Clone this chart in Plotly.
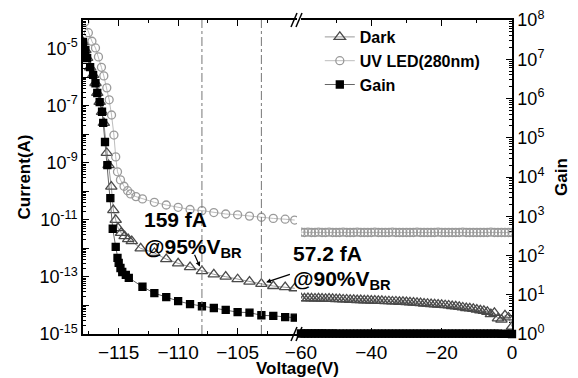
import math
import plotly.graph_objects as go

# ---------------- data ----------------
# Left (breakdown) segment of the voltage axis
v_dark_l = [-118, -117.8, -117.65, -117.4, -117.15, -116.95, -116.8, -116.6, -116.4, -116.25,
            -116.0, -115.85, -115.62, -115.45, -115.25, -115.05, -114.8, -114.5, -114.2, -113.9,
            -113.15, -112, -111, -110, -109, -108, -107, -106, -105, -104, -103, -102, -101, -100.2]
i_dark_l = [1.7e-5, 8.9e-6, 4.7e-6, 2.2e-6, 1.2e-6, 6.2e-7, 2.8e-7, 1.35e-7, 6.0e-8, 2.5e-8,
            2.2e-9, 8.3e-10, 1.45e-10, 2.2e-11, 1.0e-11, 5.1e-12, 3.5e-12, 2.7e-12, 2.1e-12, 1.8e-12,
            1.0e-12, 6.9e-13, 4.2e-13, 3.0e-13, 2.2e-13, 1.59e-13, 1.23e-13, 1.02e-13, 8.3e-14, 6.8e-14,
            5.72e-14, 4.8e-14, 4.4e-14, 4.0e-14]

v_uv_l = [-117.85, -117.55, -117.25, -116.95, -116.7, -116.45, -116.25, -116.0, -115.8, -115.6,
          -115.4, -115.25, -115.1, -114.85, -114.55, -114.25, -114.0, -113.55, -113.0, -112,
          -111, -110, -109, -108, -107, -106, -105, -104, -103, -102, -101, -100.2]
i_uv_l = [8.5e-5, 3.6e-5, 1.8e-5, 1.05e-5, 5.1e-6, 2.2e-6, 1.1e-6, 4.2e-7, 1.6e-7, 4.7e-8,
          9.3e-9, 1.6e-9, 4.8e-10, 2.5e-10, 1.5e-10, 1.05e-10, 8.1e-11, 6.5e-11, 5.4e-11, 4.1e-11,
          3.3e-11, 2.75e-11, 2.3e-11, 2.1e-11, 1.8e-11, 1.6e-11, 1.5e-11, 1.35e-11, 1.23e-11, 1.12e-11,
          1.05e-11, 9.8e-12]

v_gain_l = [-118, -117.8, -117.65, -117.4, -117.15, -116.95, -116.8, -116.6, -116.4, -116.3,
            -116.15, -115.95, -115.7, -115.5, -115.25, -115.1, -115.0, -114.85, -114.7, -114.4,
            -114.15, -113, -112, -111, -110, -109, -108, -107, -106, -105, -104, -103, -102, -101, -100.2]
gain_l = [2.75e7, 1.74e7, 1.07e7, 6.3e6, 4.0e6, 2.45e6, 1.38e6, 8.1e5, 4.6e5, 2.4e5,
          7.8e4, 2.0e4, 2.9e3, 480, 166, 87, 65, 48, 38, 32,
          27, 16, 11, 8.7, 6.9, 5.8, 5.1, 4.6, 4.1, 3.6, 3.5, 3.0, 2.9, 2.7, 2.6]

# Right (low bias) segment of the voltage axis
v_right = [-60, -59, -58, -57, -56, -55, -54, -53, -52, -51, -50, -49, -48, -47, -46, -45, -44, -43,
           -42, -41, -40, -39, -38, -37, -36, -35, -34, -33, -32, -31, -30, -29, -28, -27, -26, -25,
           -24, -23, -22, -21, -20, -19, -18, -17, -16, -15, -14, -13, -12, -11, -10, -9, -8, -7,
           -6, -5, -4, -3, -2, -1, 0]
i_dark_r = [1.82e-14, 1.78e-14, 1.82e-14, 1.78e-14, 1.74e-14, 1.78e-14, 1.74e-14, 1.70e-14, 1.74e-14, 1.70e-14,
            1.66e-14, 1.66e-14, 1.62e-14, 1.62e-14, 1.58e-14, 1.58e-14, 1.55e-14, 1.55e-14, 1.51e-14, 1.51e-14,
            1.48e-14, 1.48e-14, 1.45e-14, 1.45e-14, 1.41e-14, 1.41e-14, 1.38e-14, 1.38e-14, 1.35e-14, 1.35e-14,
            1.32e-14, 1.29e-14, 1.26e-14, 1.23e-14, 1.20e-14, 1.17e-14, 1.15e-14, 1.12e-14, 1.10e-14, 1.07e-14,
            1.05e-14, 1.02e-14, 1.00e-14, 9.5e-15, 9.3e-15, 8.9e-15, 8.5e-15, 8.1e-15, 7.9e-15, 7.6e-15,
            7.2e-15, 6.8e-15, 6.5e-15, 6.0e-15, 5.0e-15, 5.5e-15, 3.5e-15, 3.2e-15, 4.5e-15, 3.8e-15,
            1.8e-15]
i_uv_r = [3.7e-12, 3.6e-12, 3.7e-12, 3.6e-12, 3.6e-12, 3.7e-12, 3.6e-12, 3.6e-12, 3.7e-12, 3.6e-12,
          3.6e-12, 3.6e-12, 3.7e-12, 3.6e-12, 3.6e-12, 3.6e-12, 3.7e-12, 3.6e-12, 3.6e-12, 3.6e-12,
          3.6e-12, 3.7e-12, 3.6e-12, 3.6e-12, 3.6e-12, 3.6e-12, 3.7e-12, 3.6e-12, 3.6e-12, 3.6e-12,
          3.6e-12, 3.6e-12, 3.6e-12, 3.7e-12, 3.6e-12, 3.6e-12, 3.6e-12, 3.6e-12, 3.6e-12, 3.7e-12,
          3.6e-12, 3.6e-12, 3.6e-12, 3.6e-12, 3.6e-12, 3.6e-12, 3.7e-12, 3.6e-12, 3.6e-12, 3.6e-12,
          3.6e-12, 3.6e-12, 3.6e-12, 3.6e-12, 3.7e-12, 3.6e-12, 3.6e-12, 3.6e-12, 3.6e-12, 3.6e-12,
          3.6e-12]
gain_r = [1.03, 1.03, 1.03, 1.03, 1.03, 1.03, 1.03, 1.03, 1.02, 1.03, 1.02, 1.02, 1.02, 1.02, 1.02,
          1.02, 1.02, 1.02, 1.02, 1.02, 1.02, 1.02, 1.02, 1.02, 1.02, 1.02, 1.02, 1.02, 1.02, 1.02,
          1.02, 1.02, 1.02, 1.02, 1.02, 1.02, 1.02, 1.02, 1.02, 1.02, 1.02, 1.02, 1.02, 1.02, 1.02,
          1.02, 1.02, 1.02, 1.02, 1.02, 1.02, 1.02, 1.02, 1.02, 1.02, 1.02, 1.02, 1.01, 1.01, 1.01,
          1.0]

vbr_lines = [-108, -103]          # 95 % and 90 % of V_BR
vbr_currents = [1.59e-13, 5.72e-14]

x_left_ticks = [-115, -110, -105]
x_left_minor = [-117.5, -112.5, -107.5, -102.5]
x_right_ticks = [-60, -40, -20, 0]
x_right_minor = [-50, -30, -10]

# ---------------- styles ----------------
FONT = "Liberation Sans, Arial, sans-serif"
DARK_C, DARK_L = "#4a4a4a", "#9a9a9a"
UV_C, UV_L = "#9a9a9a", "#bdbdbd"
GAIN_C, GAIN_L = "#000000", "#666666"

fig = go.Figure()

def add(x, y, xa, ya, name, sym, size, mc, lc, show, clip=True):
    fig.add_trace(go.Scatter(
        x=x, y=y, xaxis=xa, yaxis=ya, mode="lines+markers", name=name,
        legendgroup=name, showlegend=show, cliponaxis=clip,
        marker=dict(symbol=sym, size=size, color=mc, line=dict(color=mc, width=1.3)),
        line=dict(color=lc, width=1)))

add(v_dark_l, i_dark_l, "x", "y", "Dark", "triangle-up-open", 10, DARK_C, DARK_L, True)
add(v_uv_l, i_uv_l, "x", "y", "UV LED(280nm)", "circle-open", 8, UV_C, UV_L, True)
add(v_gain_l, gain_l, "x", "y2", "Gain", "square", 7, GAIN_C, GAIN_L, True)
add(v_right, i_dark_r, "x2", "y", "Dark", "triangle-up-open", 10, DARK_C, DARK_L, False)
add(v_right, i_uv_r, "x2", "y", "UV LED(280nm)", "circle-open", 8, UV_C, UV_L, False)
add(v_right, gain_r, "x2", "y2", "Gain", "square", 7, GAIN_C, GAIN_L, False, clip=False)

# log tick helpers
def minor_log(lo, hi):
    return [m * 10.0 ** e for e in range(lo, hi) for m in range(2, 10)]

cur_ticks = [10.0 ** e for e in range(-15, -3)]
cur_text = [("10<sup>%d</sup>" % e) if e % 2 else "" for e in range(-15, -3)]
gain_ticks = [10.0 ** e for e in range(0, 9)]
gain_text = ["10<sup>%d</sup>" % e for e in range(0, 9)]

axis_common = dict(showline=True, linecolor="black", linewidth=1.5, ticks="inside",
                   ticklen=6, tickwidth=1.2, tickcolor="black", showgrid=False,
                   zeroline=False, automargin=False, ticklabeloverflow="allow")

# The page body has an 8 px margin: figure is 570x370 placed at (8, 8).
fig.update_layout(
    width=570, height=370,
    margin=dict(l=75, r=66, t=12, b=44, autoexpand=False),
    paper_bgcolor="white", plot_bgcolor="white",
    font=dict(family=FONT, size=17, color="black"),
    xaxis=dict(domain=[0, 0.499], range=[-118, -100], anchor="y", mirror="ticks",
               tickvals=x_left_ticks, tickfont=dict(size=19),
               minor=dict(tickvals=x_left_minor, ticks="inside", ticklen=3, tickcolor="black"),
               **axis_common),
    xaxis2=dict(domain=[0.508, 1], range=[-60, 0], anchor="y", mirror="ticks",
                tickvals=x_right_ticks, tickfont=dict(size=19),
                minor=dict(tickvals=x_right_minor, ticks="inside", ticklen=3, tickcolor="black"),
                **axis_common),
    yaxis=dict(type="log", range=[-15, -4], domain=[0, 1], anchor="x",
               tickvals=cur_ticks, ticktext=cur_text, tickfont=dict(size=18),
               minor=dict(tickvals=minor_log(-15, -4), ticks="inside", ticklen=3, tickcolor="black"),
               title=dict(text="Current(A)", font=dict(size=17, weight="bold"), standoff=4),
               **axis_common),
    yaxis2=dict(type="log", range=[0, 8], overlaying="y", side="right", anchor="x2",
                tickvals=gain_ticks, ticktext=gain_text, tickfont=dict(size=18),
                minor=dict(tickvals=minor_log(0, 8), ticks="inside", ticklen=3, tickcolor="black"),
                title=dict(text="Gain", font=dict(size=17, weight="bold"), standoff=12),
                **axis_common),
    legend=dict(x=0.552, y=1.0, xanchor="left", yanchor="top", bgcolor="rgba(0,0,0,0)",
                font=dict(size=16, weight="bold"), tracegroupgap=0),
)

# vertical reference lines at 95 % / 90 % V_BR
for v in vbr_lines:
    fig.add_shape(type="line", xref="x", yref="paper", x0=v, x1=v, y0=0, y1=1,
                  line=dict(color="#777777", width=1, dash="dashdot"))

# axis break marks "//"
def px(xp):
    return (xp - 83) / 429.0
def py(yp):
    return (334 - yp) / 314.0
for yb in (334, 20):
    for xb in (294, 299):
        fig.add_shape(type="line", xref="paper", yref="paper",
                      x0=px(xb - 3), y0=py(yb + 7), x1=px(xb + 3), y1=py(yb - 7),
                      line=dict(color="black", width=1.5))

# annotations
ANN = dict(size=21)
fig.add_annotation(x=-113.0, y=-11.0, xref="x", yref="y", text="<b>159 fA</b>",
                   showarrow=False, xanchor="left", yanchor="middle", font=ANN)
fig.add_annotation(x=-113.0, y=-12.0, xref="x", yref="y", text="<b>@95%V<sub>BR</sub></b>",
                   showarrow=False, xanchor="left", yanchor="middle", font=ANN)
fig.add_annotation(x=-100.55, y=-12.18, xref="x", yref="y", text="<b>57.2 fA</b>",
                   showarrow=False, xanchor="left", yanchor="middle", font=ANN)
fig.add_annotation(x=-100.55, y=-13.12, xref="x", yref="y", text="<b>@90%V<sub>BR</sub></b>",
                   showarrow=False, xanchor="left", yanchor="middle", font=ANN)
fig.add_annotation(x=vbr_lines[0], y=math.log10(vbr_currents[0]), xref="x", yref="y", text="",
                   showarrow=True, arrowhead=2, arrowsize=0.8, arrowwidth=1.2, arrowcolor="black",
                   ax=-8, ay=-18, standoff=5)
fig.add_annotation(x=vbr_lines[1], y=math.log10(vbr_currents[1]), xref="x", yref="y", text="",
                   showarrow=True, arrowhead=2, arrowsize=0.8, arrowwidth=1.2, arrowcolor="black",
                   ax=30, ay=-10, standoff=5)
fig.add_annotation(x=0.5, y=-0.109, xref="paper", yref="paper", text="<b>Voltage(V)</b>",
                   showarrow=False, xanchor="center", yanchor="middle", font=dict(size=17))

fig.write_html("out.html")
